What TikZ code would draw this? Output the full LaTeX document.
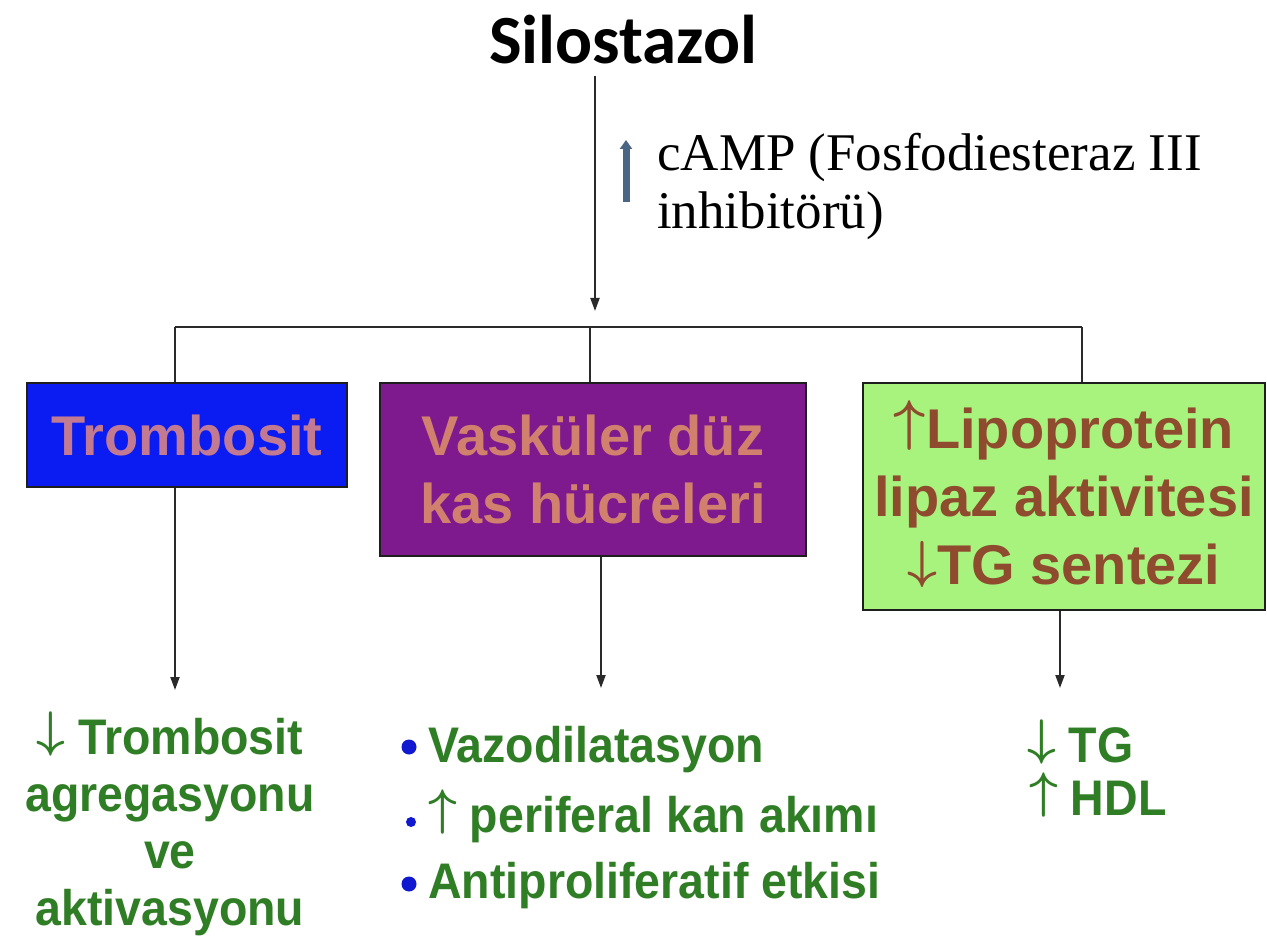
\documentclass[tikz,border=0pt]{standalone}
\usepackage{graphicx}
\usepackage{fontspec}
\setmainfont{Liberation Sans}
\newfontfamily\titlefont{Carlito}
\newfontfamily\seriffont{Liberation Serif}
\newfontfamily\narrowsans[FakeStretch=0.93]{Liberation Sans}
\usetikzlibrary{arrows.meta}
\definecolor{linec}{HTML}{2A2A2A}
\definecolor{boxline}{HTML}{1E1E1E}
\definecolor{tblue}{HTML}{0B1CF2}
\definecolor{tpurple}{HTML}{7E1A8E}
\definecolor{tgreen}{HTML}{A8F27E}
\definecolor{pinktxt}{HTML}{C27A92}
\definecolor{salmontxt}{HTML}{D2806E}
\definecolor{browntxt}{HTML}{8E4B2E}
\definecolor{greentxt}{HTML}{2F7D24}
\definecolor{bulletc}{HTML}{1018D0}
\definecolor{camparrow}{HTML}{4A6684}
\newcommand\uparr[2]{\smash{\raisebox{#2}{\scalebox{#1}{\fontsize{10}{12}\selectfont\boldmath$\uparrow$}}}}
\newcommand\dnarr[2]{\smash{\raisebox{#2}{\scalebox{#1}{\fontsize{10}{12}\selectfont\boldmath$\downarrow$}}}}
\begin{document}
\begin{tikzpicture}[x=1pt,y=-1pt,
  conn/.style={draw=linec, line width=2pt},
  arrowc/.style={conn, -{Triangle[length=13pt,width=9pt]}},
  boxA/.style={draw=boxline, line width=2pt, inner sep=0pt, align=center,
    font=\bfseries\fontsize{56}{68}\selectfont},
  outtxt/.style={inner sep=0pt, text=greentxt, font=\narrowsans\bfseries\fontsize{50}{57}\selectfont},
  bullet/.style={circle, fill=bulletc, inner sep=0pt}
]
\fill[white] (0,0) rectangle (1267,941);
\useasboundingbox (0,0) rectangle (1267,941);

% title
\node[inner sep=0pt, anchor=base, font=\titlefont\bfseries\fontsize{69}{70}\selectfont] (title) at (623,64) {Silostazol};

% main arrow
\coordinate (top) at (595,76);
\coordinate (mid) at (595,311);
\draw[arrowc] (top) -- (mid);

% cAMP annotation
\node[inner sep=0pt, anchor=north west, align=left, font=\seriffont\fontsize{53}{58}\selectfont] (camp) at (657,133) {cAMP (Fosfodiesteraz III\\inhibitörü)};
\coordinate (ua) at (626,202);
\coordinate (ub) at (626,140);
\draw[draw=camparrow, line width=7pt, -{Triangle[length=9pt,width=12pt]}] (ua) -- (ub);

% boxes
\node[boxA, fill=tblue, text=pinktxt, minimum width=320pt, minimum height=104pt] (b1) at (187,435) {Trombosit};
\node[boxA, fill=tpurple, text=salmontxt, minimum width=426pt, minimum height=173pt] (b2) at (593,469.5) {Vasküler düz\\kas hücreleri};
\node[boxA, fill=tgreen, text=browntxt, minimum width=402pt, minimum height=227pt] (b3) at (1064,496.5) {\uparr{5.6}{0.16em}Lipoprotein\\lipaz aktivitesi\\\dnarr{5.2}{0.12em}TG sentezi};

% distribution bar
\coordinate (j1) at (175,327);
\coordinate (j2) at (590,327);
\coordinate (j3) at (1082,327);
\draw[conn] (j1) -- (j3);
\draw[conn] (j1) -- (j1 |- b1.north);
\draw[conn] (j2) -- (j2 |- b2.north);
\draw[conn] (j3) -- (j3 |- b3.north);

% output arrows
\coordinate (e1) at (175,690);
\coordinate (e2) at (601,688);
\coordinate (e3) at (1060,688);
\draw[arrowc] (e1 |- b1.south) -- (e1);
\draw[arrowc] (e2 |- b2.south) -- (e2);
\draw[arrowc] (e3 |- b3.south) -- (e3);

% outputs column 1
\node[outtxt, align=center, anchor=north] (o1) at (170,718) {\dnarr{5}{0.16em} Trombosit\\agregasyonu\\ve\\aktivasyonu};

% outputs column 2
\node[outtxt, anchor=base west] (o2a) at (428,762) {Vazodilatasyon};
\node[outtxt, anchor=base west] (o2b) at (428,832) {\uparr{5}{0.16em} periferal kan akımı};
\node[outtxt, anchor=base west] (o2c) at (428,898) {Antiproliferatif etkisi};
\node[bullet, minimum size=15pt] (d1) at (409,747) {};
\node[bullet, minimum size=10pt] (d2) at (411,822) {};
\node[bullet, minimum size=15pt] (d3) at (409,884) {};

% outputs column 3
\node[outtxt, anchor=base west] (o3a) at (1027,762) {\dnarr{5}{0.16em} TG};
\node[outtxt, anchor=base west] (o3b) at (1029,815) {\uparr{5}{0.16em} HDL};
\end{tikzpicture}
\end{document}
